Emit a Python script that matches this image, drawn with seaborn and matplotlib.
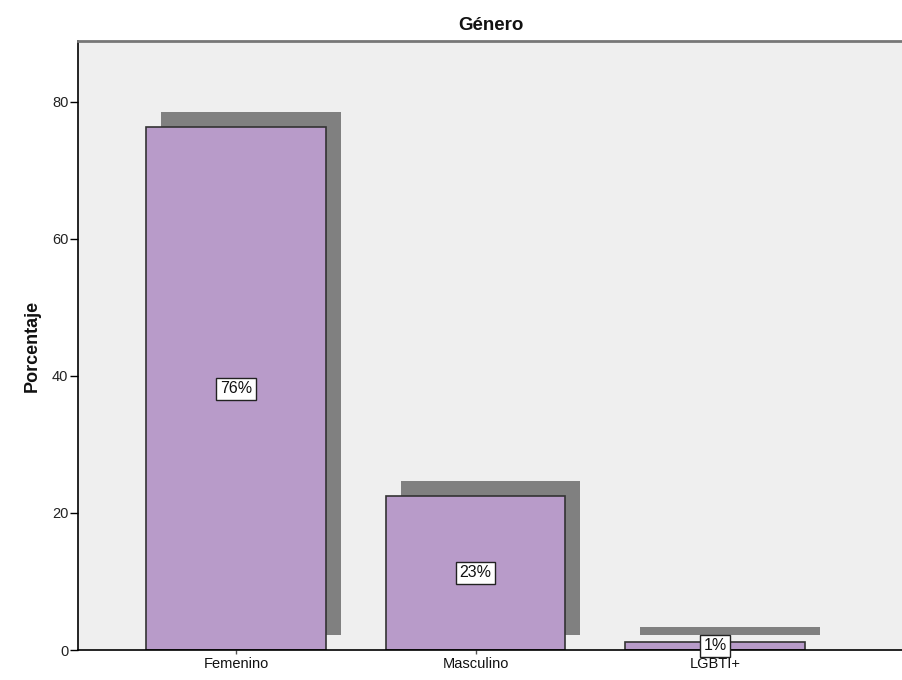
import matplotlib
matplotlib.use("Agg")
import matplotlib.pyplot as plt
import matplotlib.transforms as mtransforms
import seaborn as sns
import pandas as pd

categories = ["Femenino", "Masculino", "LGBTI+"]
values = [76.3, 22.5, 1.2]
labels = ["76%", "23%", "1%"]
yticks = [0, 20, 40, 60, 80]

df = pd.DataFrame({"Genero": categories, "Porcentaje": values})

sns.set_theme(style="white")
plt.rcParams["font.family"] = ["Liberation Sans", "DejaVu Sans"]

fig = plt.figure(figsize=(9.03, 6.80), dpi=100)
ax = fig.add_axes([78 / 903, 30 / 680, 1 - 78 / 903, 609 / 680])
ax.set_facecolor("#EFEFEF")

# shadow bars
sns.barplot(data=df, x="Genero", y="Porcentaje", color="#808080", width=0.75,
            saturation=1, ax=ax, edgecolor="none", linewidth=0)
n_shadow = len(ax.patches)
shift = mtransforms.ScaledTranslation(15 / 100, 15 / 100, fig.dpi_scale_trans)
for p in ax.patches[:n_shadow]:
    p.set_transform(ax.transData + shift)
    p.set_zorder(1)

# main bars
sns.barplot(data=df, x="Genero", y="Porcentaje", color="#B89BC9", width=0.75,
            saturation=1, ax=ax, edgecolor="#333333", linewidth=1.2)
for p in ax.patches[n_shadow:]:
    p.set_zorder(2)

for i, (v, lab) in enumerate(zip(values, labels)):
    ax.text(i, v / 2, lab, ha="center", va="center", fontsize=11.5, color="#111111",
            zorder=5,
            bbox=dict(boxstyle="square,pad=0.22", facecolor="white", edgecolor="#222222", linewidth=1))

ax.set_xlim(-0.66, 2.785)
ax.set_ylim(0, 88.9)
ax.set_yticks(yticks)
ax.set_yticklabels([str(t) for t in yticks], fontsize=10.5, color="#222222")
ax.tick_params(axis="y", which="major", left=True, length=6, width=1, color="black", pad=1)
ax.tick_params(axis="x", which="major", bottom=True, length=3, width=1, color="#555555", pad=2, labelsize=10.5, labelcolor="#111111")
ax.set_xlabel("")
ax.set_ylabel("Porcentaje", fontsize=13, fontweight="bold", color="#111111", labelpad=8)
ax.set_title("Género", fontsize=13.5, fontweight="bold", color="#111111", pad=8)

for s in ["left", "bottom"]:
    ax.spines[s].set_visible(True)
    ax.spines[s].set_color("black")
    ax.spines[s].set_linewidth(1.2)
ax.spines["top"].set_color("#777777")
ax.spines["top"].set_linewidth(2)
ax.spines["right"].set_visible(False)

fig.savefig("out.png", dpi=100, facecolor="white")
